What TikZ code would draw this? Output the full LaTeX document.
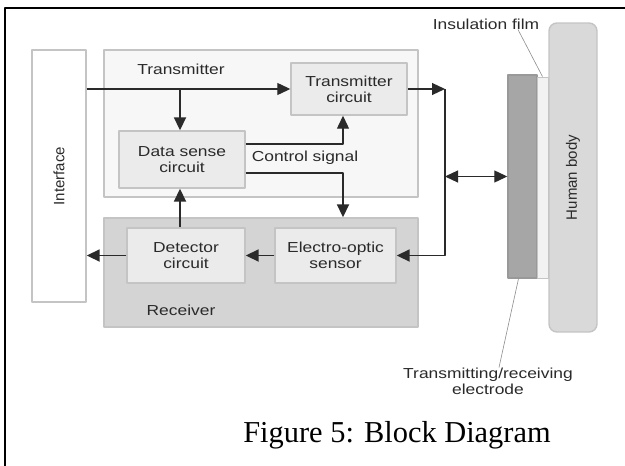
\documentclass[tikz,border=0pt]{standalone}
\usepackage{fontspec}
\setmainfont{Liberation Sans}
\newfontfamily\wide[FakeStretch=1.2]{Liberation Sans}
\newfontfamily\capfont{Liberation Serif}
\usetikzlibrary{arrows.meta}
\definecolor{ink}{HTML}{2A2A2A}
\definecolor{edge}{HTML}{C4C4C4}
\begin{document}
\begin{tikzpicture}[x=1pt,y=-1pt,>={Triangle[length=13pt,width=12pt]},line join=round,
 txt/.style={text=ink,font=\wide\fontsize{14.5}{16}\selectfont,align=center,inner sep=0pt},
 vtxt/.style={text=ink,font=\fontsize{15}{16}\selectfont,rotate=90,inner sep=0pt},
 grp/.style={draw=edge,line width=1.4pt,inner sep=0pt},
 blk/.style={grp,fill=black!8,txt},
 thk/.style={draw=ink,line width=1.8pt},
 thn/.style={draw=ink,line width=1.2pt}]
 \useasboundingbox (0,0) rectangle (625,466);
 \draw[line width=1.6pt] (5,466)--(5,8)--(625,8);
 \node[grp,fill=white,minimum width=54,minimum height=252] (iface) at (59,176) {};
 \node[vtxt] at (iface) {Interface};
 \node[grp,fill=black!3,minimum width=314,minimum height=147] (tx) at (261,123.5) {};
 \node[grp,fill=black!17,minimum width=314,minimum height=109] (rx) at (261,272.5) {};
 \node[txt] (txlbl) at (181,69) {Transmitter};
 \node[txt] (rxlbl) at (181,310) {Receiver};
 \node[blk,minimum width=116,minimum height=52] (txc) at (349,89) {Transmitter\\circuit};
 \node[blk,minimum width=126,minimum height=57] (dsc) at (182,159.5) {Data sense\\circuit};
 \node[blk,minimum width=118,minimum height=55] (det) at (186,255.5) {Detector\\circuit};
 \node[blk,minimum width=121,minimum height=55] (eos) at (335.5,255.5) {Electro-optic\\sensor};
 \node[txt] (ctl) at (305,158) {Control signal};
 \node[grp,draw=black!40,fill=black!35,minimum width=29,minimum height=203] (elec) at (522.5,176.5) {};
 \node[grp,draw=edge,fill=black!5,line width=.8pt,minimum width=11,minimum height=201] (film) at (542.5,177.5) {};
 \node[grp,fill=black!15,rounded corners=8pt,minimum width=48,minimum height=309] (body) at (573,177.5) {};
 \node[vtxt] at (body) {Human body};
 \node[txt] (filmlbl) at (486,24) {Insulation film};
 \node[txt] (eleclbl) at (488,381) {Transmitting/receiving\\electrode};
 \coordinate (bus) at (445,89);
 \draw[thn,->] (iface.east |- txc.west) -- (txc.west);
 \draw[thk,->] ([xshift=-2]dsc.north |- txc.west) -- ([xshift=-2]dsc.north);
 \draw[thn,->] ([yshift=15.5]dsc.east) -| ([xshift=-6]txc.south);
 \draw[thk,->] ([yshift=-13.5]dsc.east) -| ([xshift=-6]txc.south |- rx.north);
 \draw[thk,->] ([xshift=-6]det.north) -- ([xshift=-6]det.north |- dsc.south);
 \draw[thk,->] (det.west) -- (det.west -| iface.east);
 \draw[thk,->] (eos.west) -- (det.east);
 \draw[thn,->] (txc.east) -- (bus);
 \draw[thk,->] (bus) |- (eos.east);
 \draw[thn,<->] (bus |- elec.west) -- (elec.west);
 \draw[black!45,line width=.6pt] ([xshift=32]filmlbl.south) -- (film.north);
 \draw[black!45,line width=.6pt] ([xshift=11]eleclbl.north) -- ([xshift=-4]elec.south);
 \node[font=\capfont\fontsize{30.4}{34}\selectfont,inner sep=0pt] (cap) at (397,435) {Figure 5: Block Diagram};
\end{tikzpicture}
\end{document}
